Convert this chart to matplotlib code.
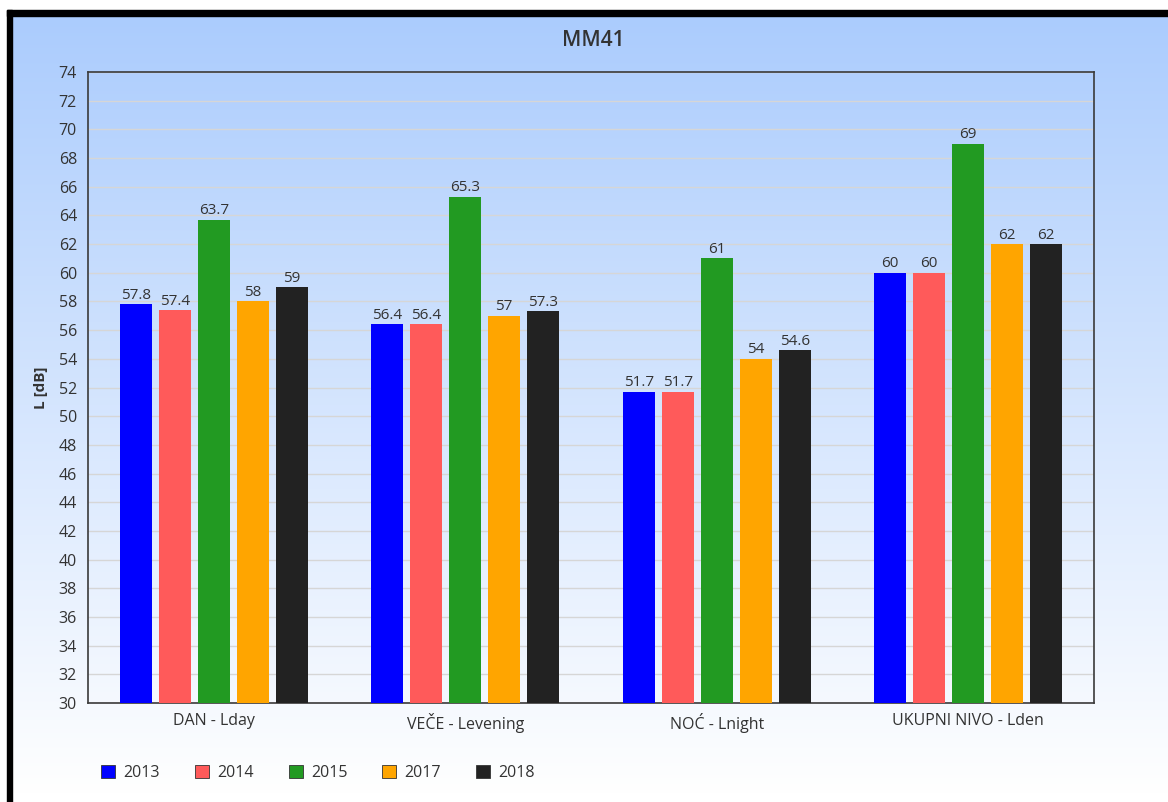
import numpy as np
import matplotlib
matplotlib.use("Agg")
import matplotlib.pyplot as plt
from matplotlib.patches import Rectangle, Patch

plt.rcParams['font.family'] = ['Open Sans', 'DejaVu Sans']

categories = ["DAN - Lday", "VEČE - Levening", "NOĆ - Lnight", "UKUPNI NIVO - Lden"]
years = ["2013", "2014", "2015", "2017", "2018"]
v2013 = [57.8, 56.4, 51.7, 60]
v2014 = [57.4, 56.4, 51.7, 60]
v2015 = [63.7, 65.3, 61, 69]
v2017 = [58, 57, 54, 62]
v2018 = [59, 57.3, 54.6, 62]
series = [v2013, v2014, v2015, v2017, v2018]
colors = ["#0000FF", "#FF5A5A", "#229A22", "#FFA500", "#222222"]
title = "MM41"
ylabel = "L [dB]"

W, H = 1168, 802
fig = plt.figure(figsize=(W / 100, H / 100), dpi=100, facecolor="white")

# background gradient
bg = fig.add_axes([0, 0, 1, 1], zorder=-10)
bg.set_xlim(0, W)
bg.set_ylim(H, 0)
bg.axis("off")
top = np.array([171, 204, 253]) / 255.0
bot = np.array([255, 255, 255]) / 255.0
t = np.linspace(0, 1, 256)[:, None]
grad = (top[None, :] * (1 - t) + bot[None, :] * t)[:, None, :]
bg.imshow(grad, extent=[12, W, 795, 16], aspect="auto", interpolation="bilinear")
bg.add_patch(Rectangle((12, 795), W, H, color="white", zorder=1))
bg.add_patch(Rectangle((7, 10), W, 6, color="black", zorder=2))
bg.add_patch(Rectangle((7, 10), 5, H, color="black", zorder=2))

ax = fig.add_axes([88 / W, (H - 703) / H, (1094 - 88) / W, (703 - 72) / H])
ax.set_facecolor("none")
x = np.arange(len(categories))
step = 0.155
width = 0.127
for i, (vals, c, yr) in enumerate(zip(series, colors, years)):
    pos = x + (i - 2) * step
    bars = ax.bar(pos, vals, width=width, color=c, label=yr, zorder=3)
    for b, v in zip(bars, vals):
        ax.annotate(f"{v:g}", (b.get_x() + b.get_width() / 2, v),
                    xytext=(0, 1), textcoords="offset points",
                    ha="center", va="bottom", fontsize=11, color="#333333", zorder=4)

ax.set_ylim(30, 74)
ax.set_xlim(-0.5, 3.5)
ax.set_yticks(np.arange(30, 75, 2))
ax.set_xticks(x)
ax.set_xticklabels(categories)
ax.tick_params(axis="both", length=0, labelsize=11.5, colors="#333333")
ax.tick_params(axis="x", pad=7, labelsize=11.5)
ax.tick_params(axis="y", pad=8)
ax.grid(axis="y", color="#d6d6d6", linewidth=1, zorder=0)
ax.set_axisbelow(True)
for s in ax.spines.values():
    s.set_color("#3a3a3a")
    s.set_linewidth(1.2)
ax.set_ylabel(ylabel, fontsize=11, fontweight="bold", color="#333333", labelpad=8)

fig.text(593 / W, 1 - 41 / H, title, ha="center", va="center", fontsize=15,
         fontweight="semibold", color="#333333")

handles = [Patch(facecolor=c, edgecolor="#333333", linewidth=0.6) for c in colors]
fig.legend(handles, years, loc="center left", bbox_to_anchor=(87 / W, 1 - 773 / H),
           ncol=5, frameon=False, fontsize=11.5, handlelength=0.88, handleheight=0.88,
           handletextpad=0.5, columnspacing=2.2, labelcolor="#333333")

fig.savefig("out.png", dpi=100, facecolor="white")
